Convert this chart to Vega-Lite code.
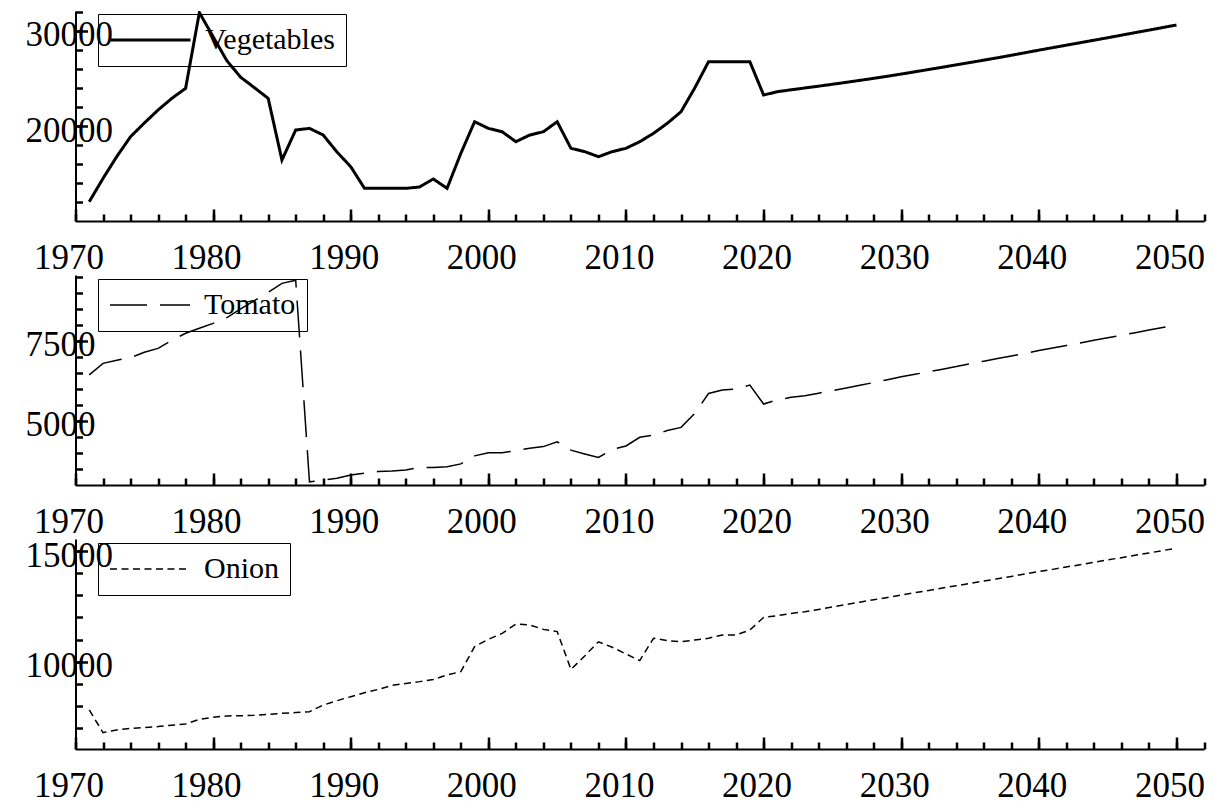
{
  "$schema": "https://vega.github.io/schema/vega-lite/v6.json",
  "autosize": {"type": "none"},
  "padding": {"left": 75.5, "top": 11, "right": 1138.5, "bottom": 792},
  "background": "white",
  "bounds": "flush",
  "spacing": 54,
  "config": {
    "view": {"stroke": null},
    "font": "Liberation Serif",
    "axis": {
      "domainColor": "black",
      "domainWidth": 2,
      "tickColor": "black",
      "tickWidth": 2.5,
      "labelFont": "Liberation Serif",
      "labelFontSize": 35,
      "labelColor": "black",
      "grid": false,
      "title": null,
      "labelOverlap": false,
      "labelFlush": false,
      "format": "d"
    },
    "legend": {
      "orient": "none",
      "title": null,
      "symbolType": "stroke",
      "symbolSize": 6400,
      "clipHeight": 30,
      "symbolStrokeColor": "black",
      "labelFont": "Liberation Serif",
      "labelFontSize": 30,
      "labelColor": "black",
      "labelOffset": 13,
      "padding": 11,
      "strokeColor": "black"
    }
  },
  "datasets": {
    "crops": [
      {"year": 1971, "crop": "Vegetables", "value": 12060},
      {"year": 1972, "crop": "Vegetables", "value": 14500},
      {"year": 1973, "crop": "Vegetables", "value": 16800},
      {"year": 1974, "crop": "Vegetables", "value": 18880},
      {"year": 1975, "crop": "Vegetables", "value": 20310},
      {"year": 1976, "crop": "Vegetables", "value": 21680},
      {"year": 1977, "crop": "Vegetables", "value": 22900},
      {"year": 1978, "crop": "Vegetables", "value": 23950},
      {"year": 1979, "crop": "Vegetables", "value": 31900},
      {"year": 1980, "crop": "Vegetables", "value": 29370},
      {"year": 1981, "crop": "Vegetables", "value": 26850},
      {"year": 1982, "crop": "Vegetables", "value": 25120},
      {"year": 1983, "crop": "Vegetables", "value": 24020},
      {"year": 1984, "crop": "Vegetables", "value": 22900},
      {"year": 1985, "crop": "Vegetables", "value": 16430},
      {"year": 1986, "crop": "Vegetables", "value": 19580},
      {"year": 1987, "crop": "Vegetables", "value": 19750},
      {"year": 1988, "crop": "Vegetables", "value": 19050},
      {"year": 1989, "crop": "Vegetables", "value": 17270},
      {"year": 1990, "crop": "Vegetables", "value": 15730},
      {"year": 1991, "crop": "Vegetables", "value": 13460},
      {"year": 1992, "crop": "Vegetables", "value": 13460},
      {"year": 1993, "crop": "Vegetables", "value": 13460},
      {"year": 1994, "crop": "Vegetables", "value": 13460},
      {"year": 1995, "crop": "Vegetables", "value": 13600},
      {"year": 1996, "crop": "Vegetables", "value": 14440},
      {"year": 1997, "crop": "Vegetables", "value": 13460},
      {"year": 1998, "crop": "Vegetables", "value": 17130},
      {"year": 1999, "crop": "Vegetables", "value": 20450},
      {"year": 2000, "crop": "Vegetables", "value": 19750},
      {"year": 2001, "crop": "Vegetables", "value": 19400},
      {"year": 2002, "crop": "Vegetables", "value": 18350},
      {"year": 2003, "crop": "Vegetables", "value": 19050},
      {"year": 2004, "crop": "Vegetables", "value": 19400},
      {"year": 2005, "crop": "Vegetables", "value": 20450},
      {"year": 2006, "crop": "Vegetables", "value": 17660},
      {"year": 2007, "crop": "Vegetables", "value": 17310},
      {"year": 2008, "crop": "Vegetables", "value": 16780},
      {"year": 2009, "crop": "Vegetables", "value": 17310},
      {"year": 2010, "crop": "Vegetables", "value": 17660},
      {"year": 2011, "crop": "Vegetables", "value": 18350},
      {"year": 2012, "crop": "Vegetables", "value": 19230},
      {"year": 2013, "crop": "Vegetables", "value": 20280},
      {"year": 2014, "crop": "Vegetables", "value": 21500},
      {"year": 2015, "crop": "Vegetables", "value": 24000},
      {"year": 2016, "crop": "Vegetables", "value": 26750},
      {"year": 2017, "crop": "Vegetables", "value": 26750},
      {"year": 2018, "crop": "Vegetables", "value": 26750},
      {"year": 2019, "crop": "Vegetables", "value": 26750},
      {"year": 2020, "crop": "Vegetables", "value": 23250},
      {"year": 2021, "crop": "Vegetables", "value": 23600},
      {"year": 2022, "crop": "Vegetables", "value": 23800},
      {"year": 2023, "crop": "Vegetables", "value": 23990},
      {"year": 2024, "crop": "Vegetables", "value": 24180},
      {"year": 2025, "crop": "Vegetables", "value": 24380},
      {"year": 2026, "crop": "Vegetables", "value": 24580},
      {"year": 2027, "crop": "Vegetables", "value": 24790},
      {"year": 2028, "crop": "Vegetables", "value": 25000},
      {"year": 2029, "crop": "Vegetables", "value": 25220},
      {"year": 2030, "crop": "Vegetables", "value": 25450},
      {"year": 2031, "crop": "Vegetables", "value": 25690},
      {"year": 2032, "crop": "Vegetables", "value": 25930},
      {"year": 2033, "crop": "Vegetables", "value": 26170},
      {"year": 2034, "crop": "Vegetables", "value": 26420},
      {"year": 2035, "crop": "Vegetables", "value": 26660},
      {"year": 2036, "crop": "Vegetables", "value": 26910},
      {"year": 2037, "crop": "Vegetables", "value": 27160},
      {"year": 2038, "crop": "Vegetables", "value": 27420},
      {"year": 2039, "crop": "Vegetables", "value": 27690},
      {"year": 2040, "crop": "Vegetables", "value": 27960},
      {"year": 2041, "crop": "Vegetables", "value": 28220},
      {"year": 2042, "crop": "Vegetables", "value": 28480},
      {"year": 2043, "crop": "Vegetables", "value": 28740},
      {"year": 2044, "crop": "Vegetables", "value": 29000},
      {"year": 2045, "crop": "Vegetables", "value": 29260},
      {"year": 2046, "crop": "Vegetables", "value": 29530},
      {"year": 2047, "crop": "Vegetables", "value": 29800},
      {"year": 2048, "crop": "Vegetables", "value": 30060},
      {"year": 2049, "crop": "Vegetables", "value": 30330},
      {"year": 2050, "crop": "Vegetables", "value": 30600},

      {"year": 1971, "crop": "Tomato", "value": 6440},
      {"year": 1972, "crop": "Tomato", "value": 6800},
      {"year": 1973, "crop": "Tomato", "value": 6900},
      {"year": 1974, "crop": "Tomato", "value": 6980},
      {"year": 1975, "crop": "Tomato", "value": 7150},
      {"year": 1976, "crop": "Tomato", "value": 7270},
      {"year": 1977, "crop": "Tomato", "value": 7520},
      {"year": 1978, "crop": "Tomato", "value": 7740},
      {"year": 1979, "crop": "Tomato", "value": 7900},
      {"year": 1980, "crop": "Tomato", "value": 8050},
      {"year": 1981, "crop": "Tomato", "value": 8230},
      {"year": 1982, "crop": "Tomato", "value": 8500},
      {"year": 1983, "crop": "Tomato", "value": 8760},
      {"year": 1984, "crop": "Tomato", "value": 9020},
      {"year": 1985, "crop": "Tomato", "value": 9300},
      {"year": 1986, "crop": "Tomato", "value": 9400},
      {"year": 1987, "crop": "Tomato", "value": 3100},
      {"year": 1988, "crop": "Tomato", "value": 3150},
      {"year": 1989, "crop": "Tomato", "value": 3210},
      {"year": 1990, "crop": "Tomato", "value": 3310},
      {"year": 1991, "crop": "Tomato", "value": 3370},
      {"year": 1992, "crop": "Tomato", "value": 3420},
      {"year": 1993, "crop": "Tomato", "value": 3440},
      {"year": 1994, "crop": "Tomato", "value": 3470},
      {"year": 1995, "crop": "Tomato", "value": 3550},
      {"year": 1996, "crop": "Tomato", "value": 3550},
      {"year": 1997, "crop": "Tomato", "value": 3570},
      {"year": 1998, "crop": "Tomato", "value": 3660},
      {"year": 1999, "crop": "Tomato", "value": 3910},
      {"year": 2000, "crop": "Tomato", "value": 4010},
      {"year": 2001, "crop": "Tomato", "value": 4010},
      {"year": 2002, "crop": "Tomato", "value": 4070},
      {"year": 2003, "crop": "Tomato", "value": 4150},
      {"year": 2004, "crop": "Tomato", "value": 4200},
      {"year": 2005, "crop": "Tomato", "value": 4350},
      {"year": 2006, "crop": "Tomato", "value": 4090},
      {"year": 2007, "crop": "Tomato", "value": 3970},
      {"year": 2008, "crop": "Tomato", "value": 3860},
      {"year": 2009, "crop": "Tomato", "value": 4110},
      {"year": 2010, "crop": "Tomato", "value": 4220},
      {"year": 2011, "crop": "Tomato", "value": 4490},
      {"year": 2012, "crop": "Tomato", "value": 4560},
      {"year": 2013, "crop": "Tomato", "value": 4700},
      {"year": 2014, "crop": "Tomato", "value": 4800},
      {"year": 2015, "crop": "Tomato", "value": 5240},
      {"year": 2016, "crop": "Tomato", "value": 5860},
      {"year": 2017, "crop": "Tomato", "value": 5970},
      {"year": 2018, "crop": "Tomato", "value": 6000},
      {"year": 2019, "crop": "Tomato", "value": 6120},
      {"year": 2020, "crop": "Tomato", "value": 5530},
      {"year": 2021, "crop": "Tomato", "value": 5660},
      {"year": 2022, "crop": "Tomato", "value": 5740},
      {"year": 2023, "crop": "Tomato", "value": 5790},
      {"year": 2024, "crop": "Tomato", "value": 5870},
      {"year": 2025, "crop": "Tomato", "value": 5950},
      {"year": 2026, "crop": "Tomato", "value": 6030},
      {"year": 2027, "crop": "Tomato", "value": 6120},
      {"year": 2028, "crop": "Tomato", "value": 6200},
      {"year": 2029, "crop": "Tomato", "value": 6290},
      {"year": 2030, "crop": "Tomato", "value": 6380},
      {"year": 2031, "crop": "Tomato", "value": 6460},
      {"year": 2032, "crop": "Tomato", "value": 6540},
      {"year": 2033, "crop": "Tomato", "value": 6620},
      {"year": 2034, "crop": "Tomato", "value": 6700},
      {"year": 2035, "crop": "Tomato", "value": 6790},
      {"year": 2036, "crop": "Tomato", "value": 6870},
      {"year": 2037, "crop": "Tomato", "value": 6950},
      {"year": 2038, "crop": "Tomato", "value": 7030},
      {"year": 2039, "crop": "Tomato", "value": 7110},
      {"year": 2040, "crop": "Tomato", "value": 7200},
      {"year": 2041, "crop": "Tomato", "value": 7280},
      {"year": 2042, "crop": "Tomato", "value": 7360},
      {"year": 2043, "crop": "Tomato", "value": 7440},
      {"year": 2044, "crop": "Tomato", "value": 7520},
      {"year": 2045, "crop": "Tomato", "value": 7600},
      {"year": 2046, "crop": "Tomato", "value": 7680},
      {"year": 2047, "crop": "Tomato", "value": 7760},
      {"year": 2048, "crop": "Tomato", "value": 7840},
      {"year": 2049, "crop": "Tomato", "value": 7920},
      {"year": 2050, "crop": "Tomato", "value": 8000},

      {"year": 1971, "crop": "Onion", "value": 7820},
      {"year": 1972, "crop": "Onion", "value": 6800},
      {"year": 1973, "crop": "Onion", "value": 6920},
      {"year": 1974, "crop": "Onion", "value": 6990},
      {"year": 1975, "crop": "Onion", "value": 7030},
      {"year": 1976, "crop": "Onion", "value": 7070},
      {"year": 1977, "crop": "Onion", "value": 7130},
      {"year": 1978, "crop": "Onion", "value": 7190},
      {"year": 1979, "crop": "Onion", "value": 7400},
      {"year": 1980, "crop": "Onion", "value": 7490},
      {"year": 1981, "crop": "Onion", "value": 7550},
      {"year": 1982, "crop": "Onion", "value": 7560},
      {"year": 1983, "crop": "Onion", "value": 7580},
      {"year": 1984, "crop": "Onion", "value": 7620},
      {"year": 1985, "crop": "Onion", "value": 7670},
      {"year": 1986, "crop": "Onion", "value": 7700},
      {"year": 1987, "crop": "Onion", "value": 7740},
      {"year": 1988, "crop": "Onion", "value": 8040},
      {"year": 1989, "crop": "Onion", "value": 8240},
      {"year": 1990, "crop": "Onion", "value": 8420},
      {"year": 1991, "crop": "Onion", "value": 8600},
      {"year": 1992, "crop": "Onion", "value": 8750},
      {"year": 1993, "crop": "Onion", "value": 8930},
      {"year": 1994, "crop": "Onion", "value": 9020},
      {"year": 1995, "crop": "Onion", "value": 9100},
      {"year": 1996, "crop": "Onion", "value": 9200},
      {"year": 1997, "crop": "Onion", "value": 9400},
      {"year": 1998, "crop": "Onion", "value": 9550},
      {"year": 1999, "crop": "Onion", "value": 10680},
      {"year": 2000, "crop": "Onion", "value": 11010},
      {"year": 2001, "crop": "Onion", "value": 11280},
      {"year": 2002, "crop": "Onion", "value": 11700},
      {"year": 2003, "crop": "Onion", "value": 11660},
      {"year": 2004, "crop": "Onion", "value": 11460},
      {"year": 2005, "crop": "Onion", "value": 11360},
      {"year": 2006, "crop": "Onion", "value": 9650},
      {"year": 2007, "crop": "Onion", "value": 10260},
      {"year": 2008, "crop": "Onion", "value": 10900},
      {"year": 2009, "crop": "Onion", "value": 10650},
      {"year": 2010, "crop": "Onion", "value": 10350},
      {"year": 2011, "crop": "Onion", "value": 10050},
      {"year": 2012, "crop": "Onion", "value": 11060},
      {"year": 2013, "crop": "Onion", "value": 10950},
      {"year": 2014, "crop": "Onion", "value": 10900},
      {"year": 2015, "crop": "Onion", "value": 10980},
      {"year": 2016, "crop": "Onion", "value": 11060},
      {"year": 2017, "crop": "Onion", "value": 11210},
      {"year": 2018, "crop": "Onion", "value": 11210},
      {"year": 2019, "crop": "Onion", "value": 11430},
      {"year": 2020, "crop": "Onion", "value": 12000},
      {"year": 2021, "crop": "Onion", "value": 12080},
      {"year": 2022, "crop": "Onion", "value": 12180},
      {"year": 2023, "crop": "Onion", "value": 12260},
      {"year": 2024, "crop": "Onion", "value": 12360},
      {"year": 2025, "crop": "Onion", "value": 12470},
      {"year": 2026, "crop": "Onion", "value": 12580},
      {"year": 2027, "crop": "Onion", "value": 12690},
      {"year": 2028, "crop": "Onion", "value": 12800},
      {"year": 2029, "crop": "Onion", "value": 12900},
      {"year": 2030, "crop": "Onion", "value": 13010},
      {"year": 2031, "crop": "Onion", "value": 13120},
      {"year": 2032, "crop": "Onion", "value": 13220},
      {"year": 2033, "crop": "Onion", "value": 13330},
      {"year": 2034, "crop": "Onion", "value": 13430},
      {"year": 2035, "crop": "Onion", "value": 13540},
      {"year": 2036, "crop": "Onion", "value": 13640},
      {"year": 2037, "crop": "Onion", "value": 13750},
      {"year": 2038, "crop": "Onion", "value": 13850},
      {"year": 2039, "crop": "Onion", "value": 13960},
      {"year": 2040, "crop": "Onion", "value": 14070},
      {"year": 2041, "crop": "Onion", "value": 14170},
      {"year": 2042, "crop": "Onion", "value": 14280},
      {"year": 2043, "crop": "Onion", "value": 14380},
      {"year": 2044, "crop": "Onion", "value": 14490},
      {"year": 2045, "crop": "Onion", "value": 14600},
      {"year": 2046, "crop": "Onion", "value": 14700},
      {"year": 2047, "crop": "Onion", "value": 14810},
      {"year": 2048, "crop": "Onion", "value": 14910},
      {"year": 2049, "crop": "Onion", "value": 15020},
      {"year": 2050, "crop": "Onion", "value": 15130}
    ]
  },
  "data": {"name": "crops"},
  "resolve": {
    "scale": {"x": "independent", "y": "independent", "strokeDash": "independent"},
    "axis": {"x": "independent", "y": "independent"},
    "legend": {"strokeDash": "independent"}
  },
  "vconcat": [
    {
      "width": 1128.5,
      "height": 210,
      "transform": [{"filter": "datum.crop === 'Vegetables'"}],
      "resolve": {"axis": {"x": "independent", "y": "independent"}},
      "layer": [
        {
          "mark": {"type": "line", "color": "black", "strokeWidth": 3, "clip": true},
          "encoding": {
            "x": {
              "field": "year", "type": "quantitative",
              "scale": {"domain": [1970, 2052], "nice": false, "zero": false},
              "axis": {
                "orient": "bottom",
                "values": [1970,1972,1974,1976,1978,1980,1982,1984,1986,1988,1990,1992,1994,1996,1998,2000,2002,2004,2006,2008,2010,2012,2014,2016,2018,2020,2022,2024,2026,2028,2030,2032,2034,2036,2038,2040,2042,2044,2046,2048,2050,2052],
                "labelExpr": "datum.value % 10 === 0 ? datum.label : ''",
                "tickSize": -7,
                "labelPadding": 26,
                "labelOffset": -7
              }
            },
            "y": {
              "field": "value", "type": "quantitative",
              "scale": {"domain": [10032, 32067], "nice": false, "zero": false},
              "axis": {
                "orient": "left",
                "values": [12000,14000,16000,18000,20000,22000,24000,26000,28000,30000,32000],
                "labelExpr": "datum.value % 10000 === 0 ? datum.label : ''",
                "tickSize": -7,
                "labelAlign": "left",
                "labelBaseline": "middle",
                "labelPadding": 57.5,
                "labelOffset": 4
              }
            },
            "strokeDash": {
              "field": "crop", "type": "nominal",
              "scale": {"domain": ["Vegetables"], "range": [[1, 0]]},
              "legend": {"legendX": 22.5, "legendY": 3, "symbolStrokeWidth": 3}
            }
          }
        },
        {
          "mark": {"type": "line", "color": "black", "opacity": 0, "clip": true},
          "encoding": {
            "x": {
              "field": "year", "type": "quantitative",
              "axis": {"orient": "top", "offset": -210, "values": [1970,1980,1990,2000,2010,2020,2030,2040,2050], "tickSize": 12, "labels": false, "domain": false}
            },
            "y": {
              "field": "value", "type": "quantitative",
              "axis": {"orient": "right", "offset": -1128.5, "values": [20000, 30000], "tickSize": 12, "labels": false, "domain": false}
            }
          }
        }
      ]
    },
    {
      "width": 1128.5,
      "height": 210,
      "transform": [{"filter": "datum.crop === 'Tomato'"}],
      "resolve": {"axis": {"x": "independent", "y": "independent"}},
      "layer": [
        {
          "mark": {"type": "line", "color": "black", "strokeWidth": 1.5, "clip": true},
          "encoding": {
            "x": {
              "field": "year", "type": "quantitative",
              "scale": {"domain": [1970, 2052], "nice": false, "zero": false},
              "axis": {
                "orient": "bottom",
                "values": [1970,1972,1974,1976,1978,1980,1982,1984,1986,1988,1990,1992,1994,1996,1998,2000,2002,2004,2006,2008,2010,2012,2014,2016,2018,2020,2022,2024,2026,2028,2030,2032,2034,2036,2038,2040,2042,2044,2046,2048,2050,2052],
                "labelExpr": "datum.value % 10 === 0 ? datum.label : ''",
                "tickSize": -7,
                "labelPadding": 26,
                "labelOffset": -7
              }
            },
            "y": {
              "field": "value", "type": "quantitative",
              "scale": {"domain": [3000, 9562], "nice": false, "zero": false},
              "axis": {
                "orient": "left",
                "values": [3500,4000,4500,5000,5500,6000,6500,7000,7500,8000,8500,9000,9500],
                "labelExpr": "datum.value % 2500 === 0 ? datum.label : ''",
                "tickSize": -7,
                "labelAlign": "left",
                "labelBaseline": "middle",
                "labelPadding": 57.5,
                "labelOffset": 4
              }
            },
            "strokeDash": {
              "field": "crop", "type": "nominal",
              "scale": {"domain": ["Tomato"], "range": [[37, 13]]},
              "legend": {"legendX": 22.5, "legendY": 4, "symbolStrokeWidth": 1.5}
            }
          }
        },
        {
          "mark": {"type": "line", "color": "black", "opacity": 0, "clip": true},
          "encoding": {
            "x": {
              "field": "year", "type": "quantitative",
              "axis": {"orient": "top", "offset": -210, "values": [1970,1980,1990,2000,2010,2020,2030,2040,2050], "tickSize": 12, "labels": false, "domain": false}
            },
            "y": {
              "field": "value", "type": "quantitative",
              "axis": {"orient": "right", "offset": -1128.5, "values": [5000, 7500], "tickSize": 12, "labels": false, "domain": false}
            }
          }
        }
      ]
    },
    {
      "width": 1128.5,
      "height": 210,
      "transform": [{"filter": "datum.crop === 'Onion'"}],
      "resolve": {"axis": {"x": "independent", "y": "independent"}},
      "layer": [
        {
          "mark": {"type": "line", "color": "black", "strokeWidth": 1.5, "clip": true},
          "encoding": {
            "x": {
              "field": "year", "type": "quantitative",
              "scale": {"domain": [1970, 2052], "nice": false, "zero": false},
              "axis": {
                "orient": "bottom",
                "values": [1970,1972,1974,1976,1978,1980,1982,1984,1986,1988,1990,1992,1994,1996,1998,2000,2002,2004,2006,2008,2010,2012,2014,2016,2018,2020,2022,2024,2026,2028,2030,2032,2034,2036,2038,2040,2042,2044,2046,2048,2050,2052],
                "labelExpr": "datum.value % 10 === 0 ? datum.label : ''",
                "tickSize": -7,
                "labelPadding": 26,
                "labelOffset": -7
              }
            },
            "y": {
              "field": "value", "type": "quantitative",
              "scale": {"domain": [6057, 15542], "nice": false, "zero": false},
              "axis": {
                "orient": "left",
                "values": [7000,8000,9000,10000,11000,12000,13000,14000,15000],
                "labelExpr": "datum.value % 5000 === 0 ? datum.label : ''",
                "tickSize": -7,
                "labelAlign": "left",
                "labelBaseline": "middle",
                "labelPadding": 57.5,
                "labelOffset": 4
              }
            },
            "strokeDash": {
              "field": "crop", "type": "nominal",
              "scale": {"domain": ["Onion"], "range": [[7, 4.5]]},
              "legend": {"legendX": 22.5, "legendY": 4, "symbolStrokeWidth": 1.5}
            }
          }
        },
        {
          "mark": {"type": "line", "color": "black", "opacity": 0, "clip": true},
          "encoding": {
            "x": {
              "field": "year", "type": "quantitative",
              "axis": {"orient": "top", "offset": -210, "values": [1970,1980,1990,2000,2010,2020,2030,2040,2050], "tickSize": 12, "labels": false, "domain": false}
            },
            "y": {
              "field": "value", "type": "quantitative",
              "axis": {"orient": "right", "offset": -1128.5, "values": [10000, 15000], "tickSize": 12, "labels": false, "domain": false}
            }
          }
        }
      ]
    }
  ]
}
